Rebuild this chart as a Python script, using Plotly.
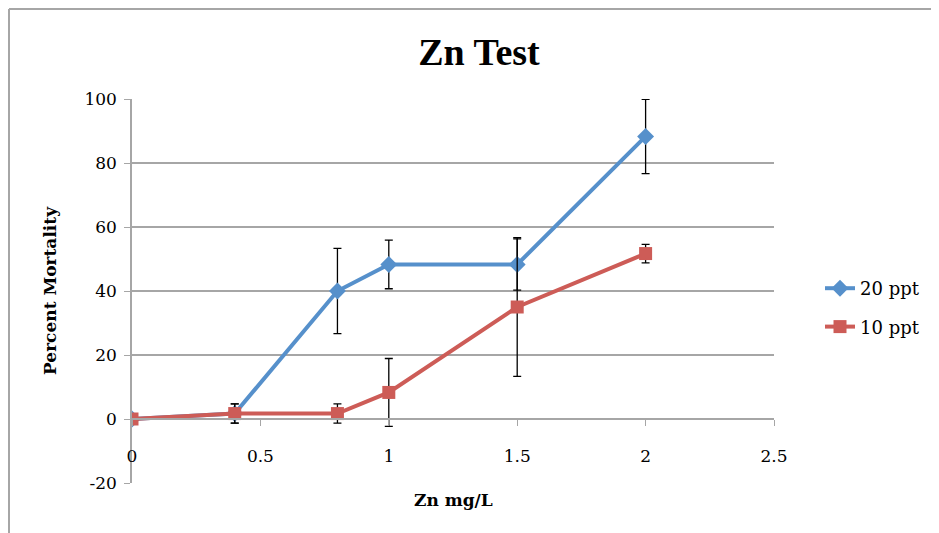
import plotly.graph_objects as go

zn = [0, 0.4, 0.8, 1, 1.5, 2]

ppt20 = [0, 1.7, 40, 48.3, 48.3, 88.3]
ppt20_err = [0, 3, 13.3, 7.6, 8, 11.6]

ppt10 = [0, 1.7, 1.7, 8.3, 35, 51.7]
ppt10_err = [0, 3, 3, 10.6, 21.7, 2.9]

yticks = [-20, 0, 20, 40, 60, 80, 100]
xticks = [0, 0.5, 1, 1.5, 2, 2.5]

serif = "DejaVu Serif, serif"
grey = "#a6a6a6"

# page has an 8px body margin, so everything is laid out 8px up/left
L, R, T, B = 124, 766, 91, 475
pw, ph = R - L, B - T

fig = go.Figure()

fig.add_trace(go.Scatter(
    x=zn, y=ppt20, name="20 ppt", mode="lines+markers", legendgroup="a",
    line=dict(color="#5690cb", width=4),
    marker=dict(symbol="diamond", size=13, color="#5690cb"),
    error_y=dict(type="data", array=ppt20_err, color="black", thickness=1.3, width=4),
))
fig.add_trace(go.Scatter(
    x=zn, y=ppt10, name="10 ppt", mode="lines+markers", legendgroup="b",
    line=dict(color="#cd5c57", width=4),
    marker=dict(symbol="square", size=13, color="#cd5c57"),
    error_y=dict(type="data", array=ppt10_err, color="black", thickness=1.3, width=4),
))

fig.update_layout(
    width=939, height=533,
    margin=dict(l=L, r=939 - R, t=T, b=533 - B),
    paper_bgcolor="white", plot_bgcolor="white",
    font=dict(family=serif, size=17, color="black"),
    title=dict(text="<b>Zn Test</b>", x=(479 - 8) / 939, xanchor="center",
               y=1 - 44 / 533, yanchor="middle",
               font=dict(size=38, family="Liberation Serif, serif")),
    showlegend=True,
    legend=dict(x=(812 - L) / pw, y=(B - 262) / ph, xanchor="left", yanchor="top",
                traceorder="grouped", tracegroupgap=12,
                font=dict(size=18), bgcolor="rgba(0,0,0,0)"),
)

fig.update_xaxes(
    range=[0, 2.5], tickvals=xticks, ticktext=[f"{v:g}" for v in xticks],
    showgrid=False, zeroline=False,
    showline=True, linecolor=grey, linewidth=1.5,
    ticks="outside", ticklen=6, tickcolor=grey,
    anchor="free", position=64 / ph, ticklabelstandoff=16,
)
fig.update_yaxes(
    range=[-20, 100], tickvals=yticks, ticktext=[str(v) for v in yticks],
    showgrid=True, gridcolor=grey, gridwidth=1.5, zeroline=False,
    showline=True, linecolor=grey, linewidth=1.5,
    ticks="outside", ticklen=6, tickcolor=grey, ticklabelstandoff=4,
)

fig.add_annotation(text="<b>Zn mg/L</b>", xref="paper", yref="paper",
                   x=(454 - 8 - L) / pw, y=(B - 492) / ph, yanchor="middle",
                   showarrow=False, font=dict(size=17))
fig.add_annotation(text="<b>Percent Mortality</b>", xref="paper", yref="paper",
                   x=(50 - 8 - L) / pw, y=(B - 283) / ph, textangle=-90,
                   xanchor="center", yanchor="middle",
                   showarrow=False, font=dict(size=17))

# chart frame (left and top edges visible in the reference)
fx = (1 - L) / pw
fy = (B - 1) / ph
fig.add_shape(type="line", xref="paper", yref="paper",
              x0=fx, x1=fx, y0=-0.3, y1=fy, line=dict(color=grey, width=2))
fig.add_shape(type="line", xref="paper", yref="paper",
              x0=fx, x1=1.4, y0=fy, y1=fy, line=dict(color=grey, width=2))

fig.write_html("out.html")
